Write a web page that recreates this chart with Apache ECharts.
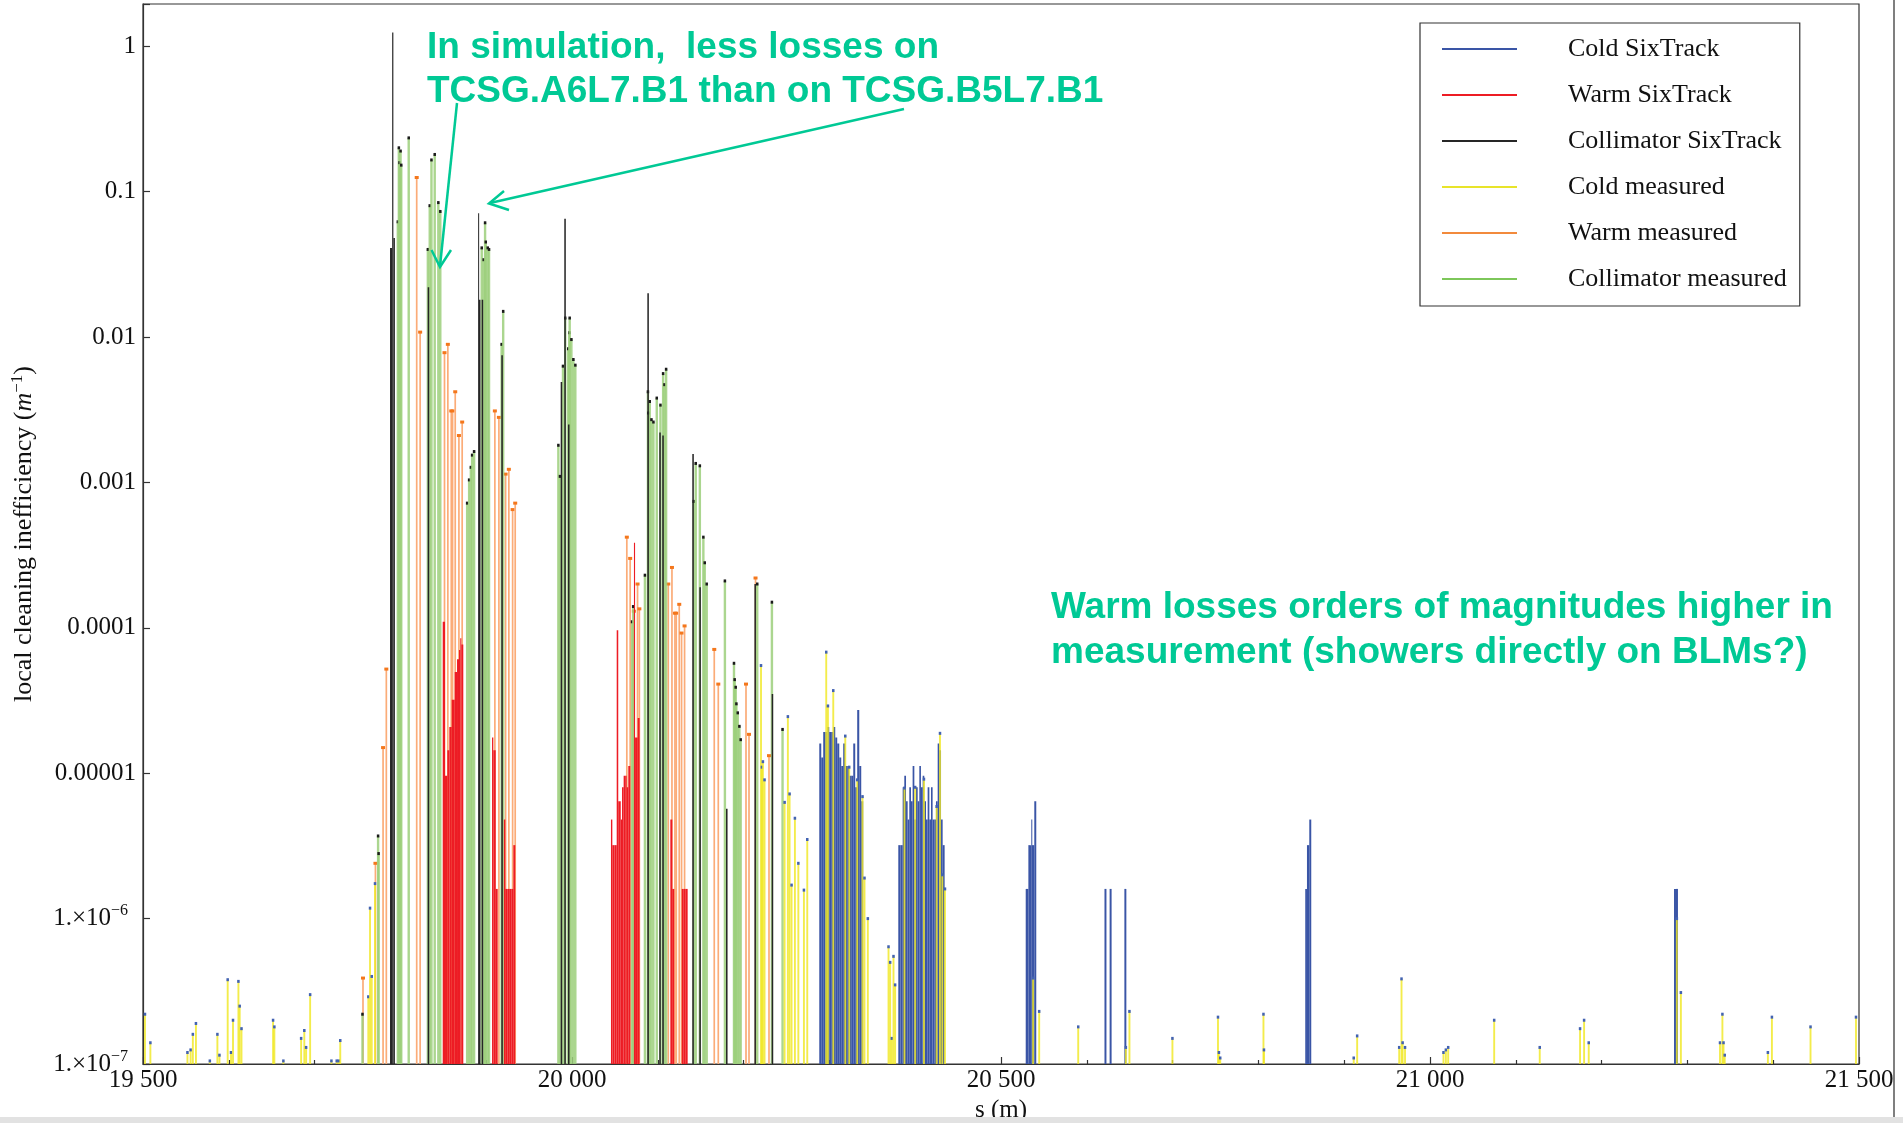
<!DOCTYPE html>
<html>
<head>
<meta charset="utf-8">
<script src="https://cdn.jsdelivr.net/npm/echarts@6/dist/echarts.min.js"></script>
<style>
html,body{margin:0;padding:0;background:#fff;}
#chart{width:1903px;height:1123px;}
</style>
</head>
<body>
<div id="chart"></div>
<script>
// ---------------- DATA ----------------
const seriesNames = ['Cold SixTrack','Warm SixTrack','Collimator SixTrack','Cold measured','Warm measured','Collimator measured'];
const xTickValues = [19500, 20000, 20500, 21000, 21500];
const xTickLabels = ['19 500', '20 000', '20 500', '21 000', '21 500'];
const yTickExp = [0, -1, -2, -3, -4, -5, -6, -7];
const yTickLabels = ['1', '0.1', '0.01', '0.001', '0.0001', '0.00001', '{m|1.\u00d710}{s|\u22126}', '{m|1.\u00d710}{s|\u22127}'];

// Cold SixTrack (blue histogram)
const coldSimS = [20288.2,20290.5,20292.8,20295.2,20297.5,20299.8,20302.1,20304.5,20306.8,20309.1,20311.5,20313.8,20316.1,20318.4,20320.8,20323.1,20325.4,20327.8,20330.1,20332.4,20334.8,20337.1,
 20380.3,20383.0,20385.4,20387.3,20389.3,20391.2,20393.1,20395.1,20397.0,20399.0,20400.9,20402.9,20404.8,20406.7,20408.7,20410.6,20412.6,20414.5,20416.5,20418.4,20420.3,20422.3,20424.2,20426.2,20428.1,20430.1,20432.0,
 20528.8,20531.9,20533.8,20535.3,20536.0,20538.8,
 20620.6,20626.6,20643.8,
 20854.6,20856.6,20859.3,
 21284.4,21286.7];
const coldSimV = [1.6e-5,1.28e-5,1.92e-5,1.92e-5,2.08e-5,1.92e-5,1.92e-5,2.08e-5,1.76e-5,1.6e-5,1.28e-5,1.12e-5,1.6e-5,1.12e-5,1.12e-5,9.6e-6,9.6e-6,1.6e-5,8.0e-6,2.72e-5,1.12e-5,6.4e-6,
 3.2e-6,3.2e-6,8.0e-6,9.6e-6,6.4e-6,4.8e-6,8.0e-6,6.4e-6,1.12e-5,4.8e-6,8.0e-6,6.4e-6,1.12e-5,8.0e-6,9.6e-6,6.4e-6,4.8e-6,8.0e-6,4.8e-6,8.0e-6,4.8e-6,4.8e-6,6.4e-6,1.6e-5,1.44e-5,4.8e-6,3.2e-6,
 1.6e-6,3.2e-6,3.2e-6,4.8e-6,3.2e-6,6.4e-6,
 1.6e-6,1.6e-6,1.6e-6,
 1.6e-6,3.2e-6,4.8e-6,
 1.6e-6,1.6e-6];

// Warm SixTrack (red histogram)
const warmSimS = [19849.3,19852.0,19854.7,19857.0,19859.8,19863.3,19866.0,19868.3,19869.8,19871.0,
 19906.8,19908.3,19911.1,
 19920.6,19922.3,19924.6,19926.9,19929.3,19931.6,
 20045.4,20047.0,20049.4,20052.1,20053.9,20056.8,20058.3,20060.2,20062.0,20063.7,20065.6,
 20072.2,20073.5,20076.5,
 20114.6,20116.9,
 20127.9,20130.2,20132.5];
const warmSimV = [1.1e-4,9.6e-6,1.44e-5,2.08e-5,3.2e-5,4.96e-5,6.08e-5,7.04e-5,8.48e-5,7.68e-5,
 1.76e-5,1.44e-5,1.6e-6,
 4.8e-6,1.6e-6,1.6e-6,1.6e-6,1.6e-6,3.2e-6,
 4.8e-6,3.2e-6,3.2e-6,9.6e-5,6.4e-6,4.8e-6,8.0e-6,9.6e-6,9.6e-6,8.0e-6,1.12e-5,
 3.84e-4,1.76e-5,2.4e-5,
 4.8e-6,1.6e-6,
 1.6e-6,1.6e-6,1.6e-6];

// Collimator SixTrack (black)
const collSimS = [19787.9,19790.4,19791.8,19831.8,19890.6,19891.5,19894.7,19917.6,19986.8,19991.0,19995.3,20087.8,20101.7,20105.2,20140.2,20148.4,20179.5,20212.6,20232.7];
const collSimV = [0.041,1.24,0.048,0.022,0.071,0.018,0.018,0.0075,0.0049,0.065,0.0025,0.020,0.0022,0.0021,0.00157,1.9e-4,5.7e-6,2.0e-4,3.5e-5];

// Cold measured (yellow stems)
const coldMeasS = [19502.3,19508.6,19551.8,19555.5,19558.1,19561.7,19577.9,19586.7,19589.1,19598.7,19602.6,19604.9,19611.2,19612.7,19614.8,19651.6,19653.1,19663.6,19684.3,19688.0,19690.1,19694.8,19719.6,19725.8,19728.2,19729.9,19762.6,19764.6,19766.6,19770.4,
 20220.3,20221.3,20222.5,20224.4,20247.8,20251.6,20253.6,20255.9,20259.8,20263.8,20270.3,20274.2,
 20296.3,20298.3,20304.5,20318.5,20323.1,20332.4,20338.6,20340.9,20344.8,
 20368.9,20370.8,20372.8,20374.7,20376.6,20387.5,20400.0,20410.2,20425.0,20428.9,20431.6,20434.7,
 20537.4,20544.5,20590.0,20645.5,20649.7,20699.8,20752.9,20754.0,20755.5,20805.9,20806.5,20911.1,20915.1,20964.1,20966.8,20968.1,20970.9,21015.7,21018.5,21021.2,21074.8,21127.9,21174.9,21179.6,21185.0,21287.7,21292.4,21338.0,21340.8,21342.1,21343.5,21393.8,21398.5,21443.5,21496.5];
const coldMeasV = [2.2e-7,1.4e-7,1.2e-7,1.25e-7,1.6e-7,1.9e-7,1.05e-7,1.6e-7,1.15e-7,3.8e-7,1.2e-7,2.0e-7,3.7e-7,2.5e-7,1.75e-7,2.0e-7,1.8e-7,1.05e-7,1.5e-7,1.7e-7,1.3e-7,3.0e-7,1.05e-7,1.05e-7,1.05e-7,1.45e-7,2.9e-7,1.18e-6,4.0e-7,1.74e-6,
 5.5e-5,1.1e-5,1.2e-5,9.0e-6,6.3e-6,2.45e-5,7.2e-6,1.7e-6,4.9e-6,2.4e-6,1.57e-6,3.5e-6,
 6.8e-5,2.9e-5,3.7e-5,1.8e-5,1.1e-5,9.0e-6,6.9e-6,1.9e-6,1.0e-6,
 6.4e-7,5.0e-7,1.5e-7,5.5e-7,3.5e-7,7.9e-6,8.0e-6,9.1e-6,5.9e-6,1.88e-5,2.0e-6,1.6e-6,
 3.9e-7,2.3e-7,1.8e-7,1.3e-7,2.3e-7,1.5e-7,2.1e-7,1.2e-7,1.1e-7,2.2e-7,1.25e-7,1.1e-7,1.56e-7,1.3e-7,3.85e-7,1.4e-7,1.3e-7,1.2e-7,1.25e-7,1.3e-7,2.0e-7,1.3e-7,1.75e-7,2.0e-7,1.4e-7,1.0e-6,3.1e-7,1.4e-7,2.2e-7,1.4e-7,1.15e-7,1.2e-7,2.1e-7,1.8e-7,2.1e-7];

// Warm measured (orange stems)
const warmMeasS = [19756.4,19770.9,19779.8,19783.6,19819.0,19823.0,19851.4,19855.3,19859.3,19860.8,19863.9,19868.2,19872.0,19910.1,19914.8,19922.6,19926.4,19930.8,19933.8,20063.9,20067.8,20072.1,20076.4,20078.5,20112.2,20116.5,20120.0,20121.5,20125.0,20127.7,20131.2,20165.8,20170.5,20202.8,20206.3,20213.9,20229.6];
const warmMeasV = [3.9e-7,2.4e-6,1.5e-5,5.2e-5,0.125,0.0108,0.0078,0.0089,0.0031,0.0031,0.0042,0.0021,0.0026,0.0031,0.0028,0.00114,0.00123,6.5e-4,7.2e-4,4.2e-4,3.0e-4,1.3e-4,2.0e-4,1.35e-4,2.0e-4,2.6e-4,1.26e-4,1.26e-4,1.45e-4,9.2e-5,1.03e-4,7.1e-5,4.1e-5,4.1e-5,1.85e-5,2.2e-4,1.32e-5];

// Collimator measured (green stems)
const collMeasS = [19755.8,19774.0,19774.6,19797.0,19798.2,19799.0,19800.2,19801.0,19809.7,19832.0,19834.2,19836.2,19840.0,19844.2,19846.5,19877.8,19880.1,19882.1,19883.6,19885.9,19894.8,19897.1,19898.7,19899.5,19901.8,19903.3,19918.0,19919.8,19984.1,19986.0,19989.5,19992.1,19995.6,19996.9,19997.3,19999.3,20001.6,20003.9,20070.0,20071.3,20085.0,20088.5,20089.0,20090.6,20092.6,20094.9,20098.8,20103.1,20106.2,20107.8,20109.7,20141.8,20144.2,20149.0,20153.1,20154.7,20157.0,20178.2,20188.8,20189.6,20190.8,20191.6,20193.2,20195.1,20196.6,20215.9,20233.0,20245.4];
const collMeasV = [2.2e-7,3.7e-6,2.8e-6,0.062,0.20,0.158,0.19,0.152,0.234,0.040,0.080,0.165,0.18,0.084,0.073,7.2e-4,1.04e-3,1.27e-3,1.54e-3,1.63e-3,0.041,0.034,0.061,0.045,0.041,0.040,0.0089,0.015,0.0018,0.0011,0.0063,0.0135,0.0083,0.0107,0.0135,0.0096,0.0070,0.0064,1.1e-4,1.4e-4,2.3e-4,0.0042,0.0030,0.0036,0.0027,0.0026,0.0038,0.0034,0.0056,0.0047,0.0060,7.4e-4,0.00135,0.0013,4.2e-4,2.8e-4,2.0e-4,2.1e-4,5.7e-5,4.4e-5,3.9e-5,3.0e-5,2.6e-5,2.1e-5,1.7e-5,2.0e-4,1.5e-4,2.0e-5];

// ---------------- CHART ----------------
const Y_MIN = 1e-7, Y_MAX = 1.95;
const SERIF = '"Liberation Serif", "Times New Roman", serif';
const SANS = '"Liberation Sans", Arial, sans-serif';
const ANNO = '#00c995';
const TXT = '#111';

function zip(S, V) { return S.map((s, i) => [s, V[i]]); }

function binSeries(name, S, V, color, binW, z) {
  return {
    name, type: 'custom', z, data: zip(S, V),
    itemStyle: { color },
    renderItem: function (params, api) {
      const i = params.dataIndex;
      const s = api.value(0), v = api.value(1);
      let e = s + binW;
      if (i + 1 < S.length && S[i + 1] > s && S[i + 1] - s < binW * 1.6) e = S[i + 1];
      const p0 = api.coord([s, v]);
      const p1 = api.coord([e, Y_MIN]);
      return { type: 'rect', shape: { x: p0[0], y: p0[1], width: Math.max(1, p1[0] - p0[0]), height: Math.max(0, p1[1] - p0[1]) }, style: { fill: color } };
    }
  };
}

function stemSeries(name, S, V, cfg) {
  return {
    name, type: 'custom', z: cfg.z, data: zip(S, V),
    itemStyle: { color: cfg.legendColor },
    renderItem: function (params, api) {
      const s = api.value(0), v = api.value(1);
      const p = api.coord([s, v]);
      const b = api.coord([s, Y_MIN]);
      const w = cfg.width;
      const kids = [{ type: 'rect', shape: { x: p[0] - w / 2, y: p[1], width: w, height: Math.max(0, b[1] - p[1]) }, style: { fill: cfg.color, opacity: cfg.opacity } }];
      if (cfg.dot) kids.push({ type: 'rect', shape: { x: p[0] - cfg.dotW / 2, y: p[1] - cfg.dotH / 2, width: cfg.dotW, height: cfg.dotH }, style: { fill: cfg.dot } });
      return { type: 'group', children: kids };
    }
  };
}

const chart = echarts.init(document.getElementById('chart'), null, { renderer: 'canvas' });

const option = {
  animation: false,
  backgroundColor: '#ffffff',
  grid: { left: 143, right: 44, top: 4, bottom: 59, show: true, borderColor: '#333', borderWidth: 1.2, containLabel: false, outerBoundsMode: 'none' },
  xAxis: {
    type: 'value', min: 19500, max: 21500, interval: 500,
    axisLine: { show: true, lineStyle: { color: '#333', width: 1.2 } },
    axisTick: { show: true, inside: true, length: 7, lineStyle: { color: '#333', width: 1.2 } },
    minorTick: { show: true, splitNumber: 5, length: 4, lineStyle: { color: '#333', width: 1.2 } },
    splitLine: { show: false },
    axisLabel: {
      fontFamily: SERIF, fontSize: 25, color: TXT, margin: 4,
      formatter: v => { const i = xTickValues.indexOf(Math.round(v)); return i < 0 ? '' : xTickLabels[i]; }
    },
    name: 's (m)', nameLocation: 'middle', nameGap: 34,
    nameTextStyle: { fontFamily: SERIF, fontSize: 25, color: TXT }
  },
  yAxis: {
    type: 'log', logBase: 10, min: Y_MIN, max: Y_MAX,
    axisLine: { show: true, lineStyle: { color: '#333', width: 1.2 } },
    axisTick: { show: true, inside: true, length: 7, lineStyle: { color: '#333', width: 1.2 } },
    splitLine: { show: false },
    axisLabel: {
      fontFamily: SERIF, fontSize: 25, color: TXT, margin: 7,
      formatter: v => {
        const e = Math.log10(v), r = Math.round(e);
        if (Math.abs(e - r) > 1e-6) return '';
        const i = yTickExp.indexOf(r);
        return i < 0 ? '' : yTickLabels[i];
      },
      rich: {
        m: { fontFamily: SERIF, fontSize: 25, color: TXT },
        s: { fontFamily: SERIF, fontSize: 16, color: TXT, padding: [0, 8, 15, 0] }
      }
    },
    name: '{t|local cleaning inefficiency (}{i|m}{s|\u22121}{t|)}',
    nameLocation: 'middle', nameRotate: 90, nameGap: 104,
    nameTextStyle: {
      rich: {
        t: { fontFamily: SERIF, fontSize: 26, color: TXT },
        i: { fontFamily: SERIF, fontSize: 26, fontStyle: 'italic', color: TXT },
        s: { fontFamily: SERIF, fontSize: 17, color: TXT, padding: [0, 0, 13, 0] }
      }
    }
  },
  legend: {
    orient: 'vertical', left: 1420, top: 23,
    padding: [13, 13, 14, 22],
    itemWidth: 75, itemHeight: 2, itemGap: 20,
    borderColor: '#333', borderWidth: 1.2, backgroundColor: '#fff',
    icon: 'rect',
    selectedMode: false,
    textStyle: { fontFamily: SERIF, fontSize: 26, color: TXT, lineHeight: 26, padding: [0, 0, 0, 46] },
    data: seriesNames
  },
  series: [
    stemSeries(seriesNames[4], warmMeasS, warmMeasV, { z: 2, width: 1.7, color: '#fbac78', opacity: 1, dot: '#f4771c', dotW: 4, dotH: 3, legendColor: '#f28a3c' }),
    stemSeries(seriesNames[5], collMeasS, collMeasV, { z: 2, width: 2.4, color: '#9ccf7b', opacity: 0.85, dot: '#1a1a1a', dotW: 2.5, dotH: 3, legendColor: '#7dc75a' }),
    binSeries(seriesNames[0], coldSimS, coldSimV, '#3a55a6', 2.3, 3),
    binSeries(seriesNames[1], warmSimS, warmSimV, '#ed1c24', 2.3, 3),
    binSeries(seriesNames[2], collSimS, collSimV, '#262626', 1.8, 4),
    stemSeries(seriesNames[3], coldMeasS, coldMeasV, { z: 5, width: 1.9, color: '#f0e824', opacity: 0.82, dot: '#4262b2', dotW: 2.5, dotH: 3, legendColor: '#e8e42a' })
  ],
  graphic: [
    { type: 'text', x: 427, y: 48, z: 100, style: { text: 'In simulation,  less losses on', fill: ANNO, font: 'bold 37px ' + SANS, align: 'left', verticalAlign: 'middle' } },
    { type: 'text', x: 427, y: 92, z: 100, style: { text: 'TCSG.A6L7.B1 than on TCSG.B5L7.B1', fill: ANNO, font: 'bold 37px ' + SANS, align: 'left', verticalAlign: 'middle' } },
    { type: 'text', x: 1051, y: 608, z: 100, style: { text: 'Warm losses orders of magnitudes higher in', fill: ANNO, font: 'bold 37px ' + SANS, align: 'left', verticalAlign: 'middle' } },
    { type: 'text', x: 1051, y: 653, z: 100, style: { text: 'measurement (showers directly on BLMs?)', fill: ANNO, font: 'bold 37px ' + SANS, align: 'left', verticalAlign: 'middle' } },
    { type: 'polyline', z: 100, shape: { points: [[457, 103], [440, 266]] }, style: { stroke: ANNO, lineWidth: 2.5, fill: null } },
    { type: 'polyline', z: 100, shape: { points: [[431.5, 250], [440, 267], [451, 250]] }, style: { stroke: ANNO, lineWidth: 2.5, fill: null } },
    { type: 'polyline', z: 100, shape: { points: [[904, 109], [490, 203]] }, style: { stroke: ANNO, lineWidth: 2.5, fill: null } },
    { type: 'polyline', z: 100, shape: { points: [[504, 191], [489, 203.5], [509, 210]] }, style: { stroke: ANNO, lineWidth: 2.5, fill: null } },
    { type: 'line', z: 100, shape: { x1: 1894, y1: 0, x2: 1894, y2: 1117 }, style: { stroke: '#555', lineWidth: 1.5 } },
    { type: 'rect', z: 100, shape: { x: 0, y: 1117, width: 1903, height: 6 }, style: { fill: '#e2e2e2' } }
  ]
};

chart.setOption(option);
</script>
</body>
</html>
